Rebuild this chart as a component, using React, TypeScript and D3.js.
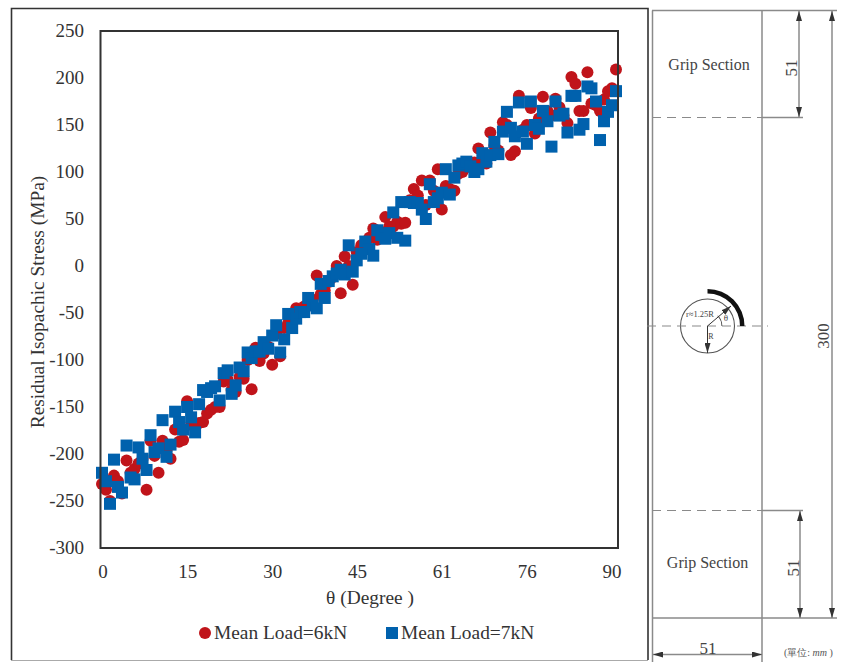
import React, { useEffect, useRef } from "react";
import * as d3 from "d3";

const width = 856;
const height = 662;

// theta of every sample, degrees
const thetas = [
  0, 0.7, 1.4, 2.1, 2.8, 3.5, 4.3, 5, 5.7, 6.4, 7.1, 7.8, 8.5, 9.2, 9.9, 10.6,
  11.3, 12, 12.8, 13.5, 14.2, 14.9, 15.6, 16.3, 17, 17.7, 18.4, 19.1, 19.8, 20.6,
  21.3, 22, 22.7, 23.4, 24.1, 24.8, 25.5, 26.2, 26.9, 27.6, 28.3, 29.1, 29.8, 30.5,
  31.2, 31.9, 32.6, 33.3, 34, 34.7, 35.4, 36.1, 36.9, 37.6, 38.3, 39, 39.7, 40.4,
  41.1, 41.8, 42.5, 43.2, 43.9, 44.6, 45.4, 46.1, 46.8, 47.5, 48.2, 48.9, 49.6, 50.3,
  51, 51.7, 52.4, 53.1, 53.9, 54.6, 55.3, 56, 56.7, 57.4, 58.1, 58.8, 59.5, 60.2,
  60.9, 61.7, 62.4, 63.1, 63.8, 64.5, 65.2, 65.9, 66.6, 67.3, 68, 68.7, 69.4, 70.2,
  70.9, 71.6, 72.3, 73, 73.7, 74.4, 75.1, 75.8, 76.5, 77.2, 78, 78.7, 79.4, 80.1,
  80.8, 81.5, 82.2, 82.9, 83.6, 84.3, 85, 85.7, 86.5, 87.2, 87.9, 88.6, 89.3, 90,
];

const load6kN = [
  -232, -238, -250, -223, -229, -242, -207, -220, -216, -210, -205, -238, -186, -202, -220, -186,
  -196, -205, -174, -187, -185, -144, -169, -171, -167, -166, -157, -153, -150, -150,
  -123, -121, -132, -134, -118, -120, -100, -131, -87, -101, -93, -86, -105, -72,
  -96, -66, -61, -56, -45, -49, -43, -42, -36, -10, -30, -26, -17, -12, 0, -29,
  10, 0, -20, 15, 22, 24, 30, 40, 28, 36, 52, 42, 42, 47, 45, 46,
  70, 82, 75, 91, 65, 91, 80, 103, 60, 85, 82, 80, 98, 100, 105, 108,
  110, 125, 112, 109, 142, 128, 123, 153, 150, 118, 122, 181, 145, 150, 168, 141,
  157, 180, 165, 160, 178, 169, 160, 152, 201, 194, 165, 165, 206, 173, 171, 165,
  177, 186, 189, 209,
];

const load7kN = [
  -220, -229, -253, -206, -235, -241, -191, -225, -227, -193, -205, -217, -180, -198, -194, -164,
  -203, -190, -155, -166, -174, -150, -161, -177, -147, -132, -134, -130, -128, -143,
  -114, -111, -136, -127, -108, -112, -92, -98, -91, -91, -81, -88, -74, -63,
  -92, -78, -51, -66, -56, -49, -49, -34, -42, -45, -19, -34, -16, -11, -8, -4,
  -9, 22, -6, 6, 13, 26, 18, 11, 38, 33, 29, 35, 57, 30, 68, 27,
  68, 67, 67, 60, 50, 87, 68, 72, 78, 103, 76, 94, 107, 109, 111, 106,
  100, 103, 120, 111, 118, 132, 119, 143, 164, 147, 138, 174, 143, 130, 175, 150,
  146, 165, 154, 127, 175, 160, 162, 142, 181, 181, 145, 151, 191, 189, 175, 134,
  154, 164, 171, 186,
];

const yTicks = [250, 200, 150, 100, 50, 0, -50, -100, -150, -200, -250, -300];
const xTickLabels = ["0", "15", "30", "45", "61", "76", "90"];

const serif = "'Liberation Serif', 'Times New Roman', serif";
const red = "#c0141a";
const blue = "#0061ad";
const grey = "#8a8a8a";

const App = () => {
  const ref = useRef<SVGSVGElement | null>(null);

  useEffect(() => {
    const svg = d3.select(ref.current);
    svg.selectAll("*").remove();
    svg.style("font-family", serif).style("fill", "#333");

    const x = d3.scaleLinear().domain([0, 90]).range([102, 616]);
    const y = d3.scaleLinear().domain([-300, 250]).range([548, 31]);
    const xLabels = d3.scalePoint().domain(xTickLabels).range([103, 612]);

    // outer frame of the left panel
    svg.append("path")
      .attr("d", "M11.5,660V8.5H648V660")
      .attr("fill", "none")
      .attr("stroke", "#333")
      .attr("stroke-width", 1.6);
    svg.append("line")
      .attr("x1", 11).attr("x2", 648).attr("y1", 660.5).attr("y2", 660.5)
      .attr("stroke", "#aaa");

    svg.selectAll(".pt6")
      .data(load6kN)
      .enter()
      .append("circle")
      .attr("cx", (d, i) => x(thetas[i]))
      .attr("cy", (d) => y(d))
      .attr("r", 6)
      .style("fill", red);

    svg.selectAll(".pt7")
      .data(load7kN)
      .enter()
      .append("rect")
      .attr("x", (d, i) => x(thetas[i]) - 6)
      .attr("y", (d) => y(d) - 6)
      .attr("width", 12)
      .attr("height", 12)
      .style("fill", blue);

    // plot box goes over the points
    svg.append("rect")
      .attr("x", x(0) - 1.5)
      .attr("y", y(250))
      .attr("width", 517.5)
      .attr("height", y(-300) - y(250))
      .attr("fill", "none")
      .attr("stroke", "#333")
      .attr("stroke-width", 2);

    svg.selectAll(".ytick")
      .data(yTicks)
      .enter()
      .append("text")
      .attr("x", 84)
      .attr("y", (d) => y(d))
      .attr("dy", "0.33em")
      .attr("text-anchor", "end")
      .style("font-size", "19px")
      .text((d) => d);

    svg.selectAll(".xtick")
      .data(xTickLabels)
      .enter()
      .append("text")
      .attr("x", (d) => xLabels(d))
      .attr("y", 578)
      .attr("text-anchor", "middle")
      .style("font-size", "19px")
      .text((d) => d);

    svg.append("text")
      .attr("transform", "translate(44,302) rotate(-90)")
      .attr("text-anchor", "middle")
      .style("font-size", "19.4px")
      .text("Residual Isopachic Stress (MPa)");

    svg.append("text")
      .attr("x", 370)
      .attr("y", 604)
      .attr("text-anchor", "middle")
      .style("font-size", "19.4px")
      .text("θ (Degree )");

    // legend
    svg.append("circle").attr("cx", 205).attr("cy", 633).attr("r", 6).style("fill", red);
    svg.append("text").attr("x", 214).attr("y", 639).style("font-size", "19.4px").text("Mean Load=6kN");
    svg.append("rect").attr("x", 386).attr("y", 627).attr("width", 12).attr("height", 12).style("fill", blue);
    svg.append("text").attr("x", 401).attr("y", 639).style("font-size", "19.4px").text("Mean Load=7kN");

    // specimen drawing on the right
    const defs = svg.append("defs");
    defs.append("marker")
      .attr("id", "arrow")
      .attr("viewBox", "0 0 10 6")
      .attr("refX", 10)
      .attr("refY", 3)
      .attr("markerWidth", 10)
      .attr("markerHeight", 6)
      .attr("markerUnits", "userSpaceOnUse")
      .attr("orient", "auto-start-reverse")
      .append("path")
      .attr("d", "M0,0L10,3L0,6Z")
      .style("fill", "#333");

    const part = svg.append("g").attr("fill", "none").attr("stroke", grey).attr("stroke-width", 1.5);
    const line = (x1: number, y1: number, x2: number, y2: number) =>
      part.append("line").attr("x1", x1).attr("y1", y1).attr("x2", x2).attr("y2", y2);

    line(652.5, 10.5, 652.5, 662);
    line(762, 10.5, 762, 662);
    line(652, 10.5, 837, 10.5);
    line(652, 618, 837, 618);
    line(762, 117.5, 803, 117.5);
    line(762, 510.5, 803, 510.5);
    line(652, 117.5, 762, 117.5).attr("stroke-dasharray", "9 6").attr("stroke-width", 1.2);
    line(652, 510.5, 762, 510.5).attr("stroke-dasharray", "9 6").attr("stroke-width", 1.2);

    const dims = [
      [799, 11, 799, 117],
      [800, 511, 800, 618],
      [832, 11, 832, 618],
      [653, 654.5, 762, 654.5],
    ];
    dims.forEach(([a, b, c, d]) => {
      line(a, b, c, d)
        .attr("marker-start", "url(#arrow)")
        .attr("marker-end", "url(#arrow)");
    });

    // hole and its stress arc
    svg.append("circle")
      .attr("cx", 707.5).attr("cy", 326).attr("r", 27)
      .attr("fill", "#fff")
      .attr("stroke", "#555")
      .attr("stroke-width", 1.1);
    svg.append("line")
      .attr("x1", 647).attr("x2", 768).attr("y1", 326).attr("y2", 326)
      .attr("stroke", grey)
      .attr("stroke-width", 1.2)
      .attr("stroke-dasharray", "9 6");

    const thickArc = d3.arc()({
      innerRadius: 32.5,
      outerRadius: 37,
      startAngle: 0,
      endAngle: Math.PI / 2,
    });
    svg.append("path")
      .attr("transform", "translate(707.5,326)")
      .attr("d", thickArc)
      .style("fill", "#111");
    svg.append("path")
      .attr("transform", "translate(707.5,326)")
      .attr("d", d3.arc()({ innerRadius: 14, outerRadius: 14.8, startAngle: Math.PI / 4, endAngle: Math.PI / 2 }))
      .style("fill", "#333");

    const inner = svg.append("g").attr("stroke", "#333").attr("stroke-width", 1);
    inner.append("line")
      .attr("x1", 707.5).attr("y1", 326).attr("x2", 731).attr("y2", 306)
      .attr("marker-end", "url(#arrow)");
    inner.append("line")
      .attr("x1", 707.5).attr("y1", 326).attr("x2", 707.5).attr("y2", 353)
      .attr("marker-end", "url(#arrow)");

    const note = (label: string, px: number, py: number, size: number, rotate = 0) =>
      svg.append("text")
        .attr("transform", `translate(${px},${py}) rotate(${rotate})`)
        .attr("text-anchor", "middle")
        .attr("dy", "0.33em")
        .style("font-size", `${size}px`)
        .style("fill", "#444")
        .text(label);

    note("Grip Section", 709, 65, 16);
    note("Grip Section", 707.5, 563, 16);
    note("51", 791, 68, 17, -90);
    note("51", 793, 568, 17, -90);
    note("300", 823, 336, 17, -90);
    note("51", 708, 648, 17);
    note("r≈1.25R", 700, 314, 8.5);
    note("θ", 726, 318, 9);
    note("R", 711, 336, 8);

    const unit = svg.append("text")
      .attr("x", 784)
      .attr("y", 656)
      .style("font-size", "10px")
      .style("fill", "#555");
    unit.append("tspan").text("(單位:");
    unit.append("tspan").style("font-style", "italic").text(" mm ");
    unit.append("tspan").text(")");
  }, []);

  return (
    <svg
      ref={ref}
      width={width}
      height={height}
      viewBox={`0 0 ${width} ${height}`}
      style={{ position: "absolute", left: 0, top: 0, background: "#fff" }}
    ></svg>
  );
};

export default App;
